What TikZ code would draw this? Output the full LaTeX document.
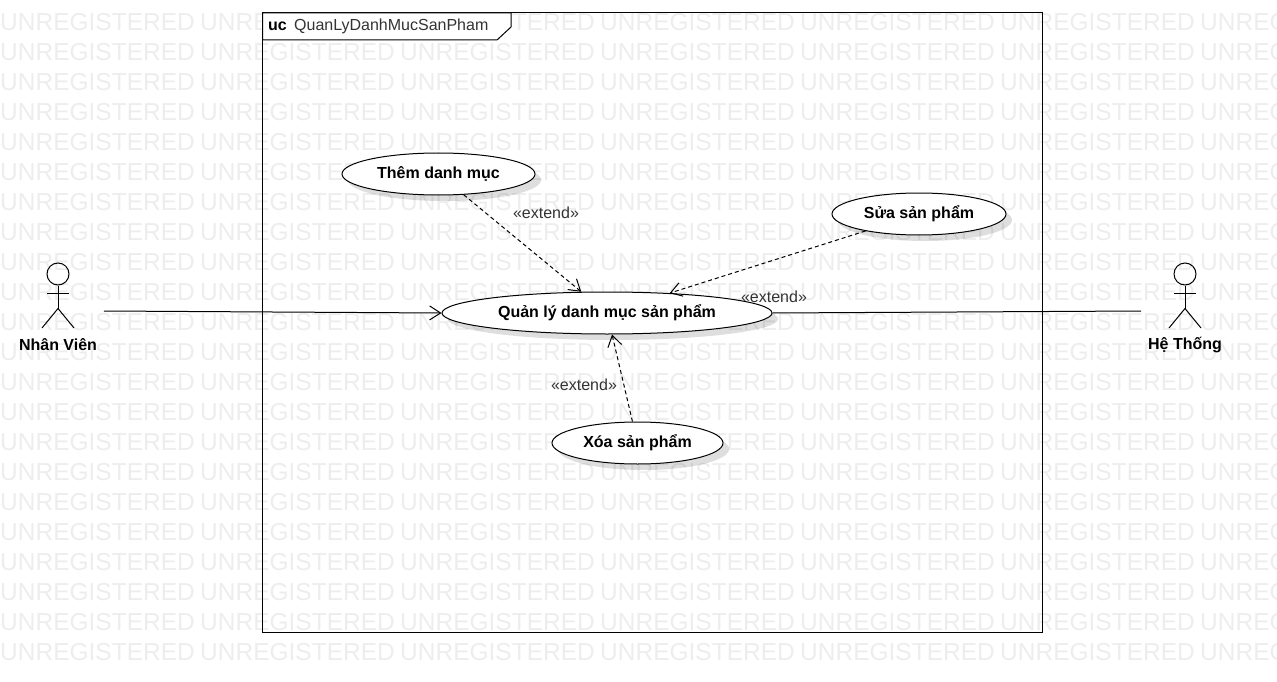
\documentclass[tikz,border=0pt]{standalone}
\usepackage{fontspec}
\setmainfont{Liberation Sans}
\usetikzlibrary{arrows.meta,shapes.geometric,shadows}
\tikzset{
	>={Straight Barb[length=11pt,width=14pt,line width=1pt]},
	wmtext/.style={anchor=west,inner sep=0pt,text=black!7,font=\fontsize{24.5}{26}\selectfont},
	usecase/.style={ellipse,draw,fill=white,line width=1pt,inner sep=0pt,font=\fontsize{16}{18}\selectfont\bfseries,drop shadow={shadow xshift=6pt,shadow yshift=-6pt,opacity=0.13,fill=black}},
	actorhead/.style={circle,draw,line width=1pt,minimum size=22pt,inner sep=0pt},
	actorname/.style={inner sep=0pt,font=\fontsize{16}{18}\selectfont\bfseries},
	extendline/.style={->,line width=1pt,dash pattern=on 4pt off 3pt},
	extendtext/.style={inner sep=0pt,text=black!80,font=\fontsize{16}{18}\selectfont},
}
\begin{document}
\begin{tikzpicture}[x=1pt,y=-1pt]
	\path[use as bounding box,clip] (0,0) rectangle (1277,682);
	% watermark
	\foreach \i in {0,...,6}
		\foreach \j in {0,...,21}
			\node[wmtext] (wm\i-\j) at (\i*200,22+\j*30){UNREGISTERED};
	% frame
	\draw[line width=1pt] (262.5,13) rectangle (1042.5,632);
	\draw[line width=1pt,fill=white] (262.5,13)--(511,13)--(511,27)--(497,40)--(262.5,40)--cycle;
	\node[anchor=west,inner sep=0pt,font=\fontsize{16}{18}\selectfont\bfseries] (uctag) at (268,26){uc};
	\node[anchor=west,inner sep=0pt,text=black!80,font=\fontsize{16}{18}\selectfont] (ucname) at (294,26){QuanLyDanhMucSanPham};
	% use cases
	\node[usecase,minimum width=193pt,minimum height=42pt] (themdanhmuc) at (438.5,174){Thêm danh mục};
	\node[usecase,minimum width=174pt,minimum height=42pt] (suasanpham) at (919,214){Sửa sản phẩm};
	\node[usecase,minimum width=330pt,minimum height=42pt] (quanly) at (607,313){Quản lý danh mục sản phẩm};
	\node[usecase,minimum width=171pt,minimum height=42pt] (xoasanpham) at (637.5,443){Xóa sản phẩm};
	% actors
	\node[actorhead] (nhanvienhead) at (58,274){};
	\draw[line width=1pt] (nhanvienhead.south)--++(0,23) coordinate (nhanvienhip);
	\draw[line width=1pt] (47,293.5)--(69,293.5);
	\draw[line width=1pt] (42,328)--(nhanvienhip)--(74,328);
	\node[actorname] (nhanvien) at (58,345){Nhân Viên};
	\node[actorhead] (hethonghead) at (1185,274){};
	\draw[line width=1pt] (hethonghead.south)--++(0,23) coordinate (hethonghip);
	\draw[line width=1pt] (1174,293.5)--(1196,293.5);
	\draw[line width=1pt] (1169,328)--(hethonghip)--(1201,328);
	\node[actorname] (hethong) at (1185,345){Hệ Thống};
	% connectors
	\coordinate (nhanvienend) at (104,311);
	\coordinate (hethongend) at (1141,311);
	\draw[->,line width=1pt] (nhanvienend)--(quanly.west);
	\draw[line width=1pt] (quanly.east)--(hethongend);
	\draw[extendline] (themdanhmuc)--(quanly);
	\draw[extendline] (suasanpham)--(quanly);
	\draw[extendline] (xoasanpham)--(quanly);
	\node[extendtext] (extendthem) at (546,213){«extend»};
	\node[extendtext] (extendsua) at (774,297){«extend»};
	\node[extendtext] (extendxoa) at (584,385){«extend»};
\end{tikzpicture}
\end{document}
